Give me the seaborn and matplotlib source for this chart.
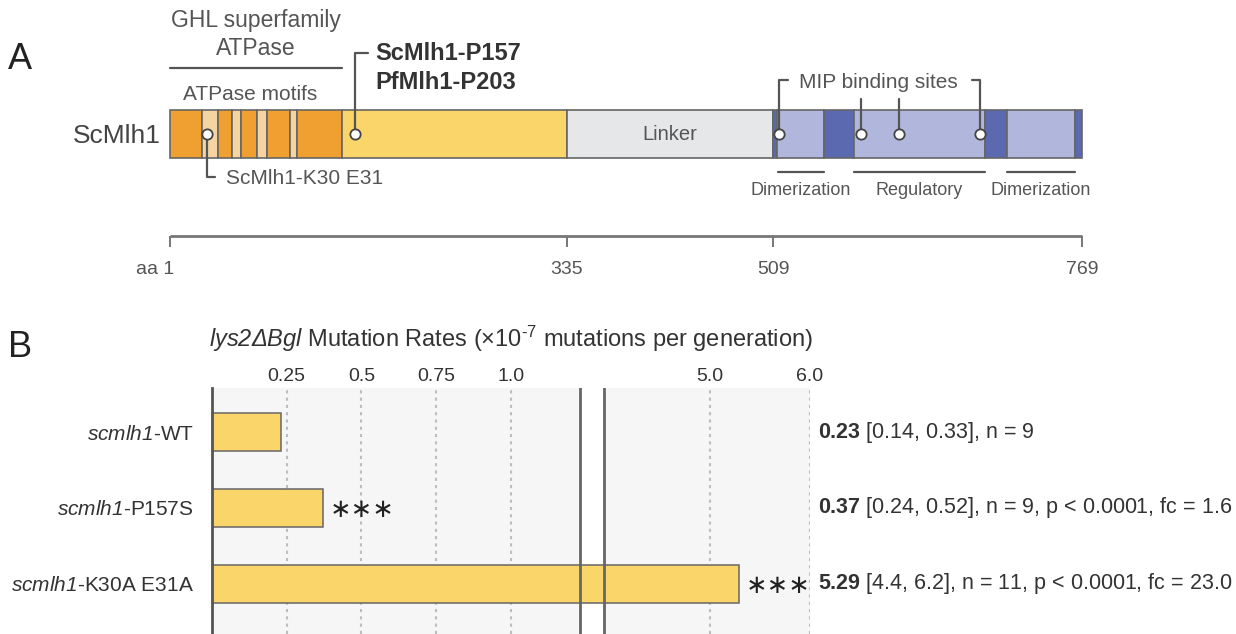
import numpy as np
import matplotlib
matplotlib.use("Agg")
import matplotlib.pyplot as plt
import seaborn as sns

# ============================
# DATA
# ============================
# panel A: ScMlh1 domain map (aa coordinates)
domain_start = [1, 28, 41, 53, 61, 74, 83, 102, 108, 146, 335, 509, 512, 552, 577, 687, 706, 763]
domain_end = [28, 41, 53, 61, 74, 83, 102, 108, 146, 335, 509, 512, 552, 577, 687, 706, 763, 769]
domain_kind = ['atpase', 'motif', 'atpase', 'motif', 'atpase', 'motif', 'atpase', 'motif', 'atpase',
               'ntd', 'linker', 'dark', 'light', 'dark', 'light', 'dark', 'light', 'dark']
k30_site = 32
p157_site = 157
mip_sites = [514, 583, 615, 683]
sub_regions = [(513, 552, 'Dimerization'), (577, 687, 'Regulatory'), (706, 763, 'Dimerization')]
atpase_span = (1, 146)
ruler_ticks = [1, 335, 509, 769]

# panel B: mutation rates
strains = ['WT', 'P157S', 'K30A E31A']
rates = [0.23, 0.37, 5.29]
ci_low = [0.14, 0.24, 4.4]
ci_high = [0.33, 0.52, 6.2]
n_reps = [9, 9, 11]
p_vals = [None, '0.0001', '0.0001']
fold_change = [None, 1.6, 23.0]
stars = ['', '∗∗∗', '∗∗∗']
rate_ticks = [0.25, 0.5, 0.75, 1.0, 5.0, 6.0]
rate_ticklabels = ['0.25', '0.5', '0.75', '1.0', '5.0', '6.0']

# ============================
# STYLE
# ============================
sns.set_style('white')
plt.rcParams['font.family'] = ['Liberation Sans', 'DejaVu Sans']
plt.rcParams['mathtext.fontset'] = 'custom'
plt.rcParams['mathtext.rm'] = 'Liberation Sans'
plt.rcParams['mathtext.it'] = 'Liberation Sans:italic'
# sf slot used as "all italic" (digits included)
plt.rcParams['mathtext.sf'] = 'Liberation Sans:italic'
plt.rcParams['mathtext.bf'] = 'Liberation Sans:bold'

colors = {'atpase': '#f0a030', 'motif': '#f5d4a2', 'ntd': '#f9d56a', 'linker': '#e6e7e9',
          'light': '#b1b7dc', 'dark': '#5a69b0'}
gray_txt = '#555555'
dark_txt = '#333333'
line_c = '#555555'

W, H = 1236, 634
fig = plt.figure(figsize=(W / 100, H / 100), dpi=100)

# ============================
# PANEL A
# ============================
px_per_aa = 1.1875
x0_px = 170
ax_a = fig.add_axes([0, (H - 300) / H, 1, 300 / H])
ax_a.set_xlim(1 - x0_px / px_per_aa, 1 + (W - x0_px) / px_per_aa)
ax_a.set_ylim(300, 0)
ax_a.axis('off')

bar_y = 134
ax_a.barh(bar_y, np.array(domain_end) - np.array(domain_start), left=domain_start, height=48,
          color=[colors[k] for k in domain_kind], edgecolor='#666666', linewidth=1.2, zorder=2)

# markers
all_sites = [k30_site, p157_site] + mip_sites
ax_a.scatter(all_sites, [bar_y] * len(all_sites), s=55, facecolor='white', edgecolor='#444444',
             linewidth=1.3, zorder=5)

lw = 1.6
# K30 E31 callout
ax_a.plot([k30_site, k30_site, k30_site + 7], [bar_y, 177, 177], color=line_c, lw=lw, zorder=4)
ax_a.text(k30_site + 16, 184.5, 'ScMlh1-K30 E31', fontsize=15, color=gray_txt, va='baseline')

# P157 callout
ax_a.plot([p157_site, p157_site, p157_site + 11], [bar_y, 53, 53], color=line_c, lw=lw, zorder=4)
ax_a.text(p157_site + 17, 60, 'ScMlh1-P157', fontsize=17, fontweight='bold', color=dark_txt,
          va='baseline')
ax_a.text(p157_site + 17, 89, 'PfMlh1-P203', fontsize=17, fontweight='bold', color=dark_txt,
          va='baseline')

# MIP callout
ax_a.plot([mip_sites[0], mip_sites[0], mip_sites[0] + 7], [bar_y, 80, 80], color=line_c, lw=lw, zorder=4)
ax_a.plot([mip_sites[-1] - 7, mip_sites[-1], mip_sites[-1]], [80, 80, bar_y], color=line_c, lw=lw, zorder=4)
for s in mip_sites[1:-1]:
    ax_a.plot([s, s], [99, bar_y], color=line_c, lw=lw, zorder=4)
ax_a.text(np.mean([mip_sites[0], mip_sites[-1]]) - 1, 88, 'MIP binding sites', fontsize=15,
          color=gray_txt, ha='center', va='baseline')

# ATPase labels
mid_atp = np.mean(atpase_span)
ax_a.text(mid_atp, 27, 'GHL superfamily', fontsize=16.5, color=gray_txt, ha='center', va='baseline')
ax_a.text(mid_atp, 55, 'ATPase', fontsize=16.5, color=gray_txt, ha='center', va='baseline')
ax_a.plot(atpase_span, [68, 68], color=line_c, lw=lw)
ax_a.text(mid_atp - 5, 100, 'ATPase motifs', fontsize=15, color=gray_txt, ha='center', va='baseline')

# linker
ax_a.text((335 + 509) / 2, bar_y, 'Linker', fontsize=14.5, color=gray_txt, ha='center', va='center')

# sub regions under the CTD
for a, b, lab in sub_regions:
    ax_a.plot([a, b], [172, 172], color=line_c, lw=lw)
    ax_a.text((a + b) / 2, 195, lab, fontsize=13, color=gray_txt, ha='center', va='baseline')

ax_a.text(-7, 143, 'ScMlh1', fontsize=19, color='#444444', ha='right', va='baseline')

# ruler
ax_a.hlines(236, ruler_ticks[0], ruler_ticks[-1], color='#777777', lw=2)
ax_a.vlines(ruler_ticks, 236, 247, color='#777777', lw=1.4)
for t in ruler_ticks:
    if t == ruler_ticks[0]:
        ax_a.text(t + 4, 274, f'aa {t}', fontsize=14, color=gray_txt, ha='right', va='baseline')
    else:
        ax_a.text(t, 274, str(t), fontsize=14, color=gray_txt, ha='center', va='baseline')

fig.text(8 / W, 1 - 69 / H, 'A', fontsize=26, color='#222222', va='baseline')
fig.text(8 / W, 1 - 357 / H, 'B', fontsize=26, color='#222222', va='baseline')

# ============================
# PANEL B (broken axis)
# ============================
brk_lo, brk_hi = 1.231, 3.94
knots_x = [-100, 0, brk_lo, brk_hi, 100]
knots_p = [-29900, 0, 368, 392, 392 + 9606]


def fwd(x):
    return np.interp(x, knots_x, knots_p)


def inv(p):
    return np.interp(p, knots_p, knots_x)


ax_b = fig.add_axes([212 / W, 0, 598 / W, (H - 388) / H])
ax_b.set_facecolor('#f6f6f6')

labels = [f'$\\mathsf{{scmlh1}}$-{s}' for s in strains]
sns.barplot(x=rates, y=labels, orient='h', color='#f9d56a', saturation=1, width=0.51,
            edgecolor='#666666', linewidth=1.1, ax=ax_b, zorder=2)
ax_b.set_xscale('function', functions=(fwd, inv))
ax_b.set_xlim(0, 6.0)
ax_b.set_ylim(2.66, -0.58)

ax_b.axvspan(brk_lo, brk_hi, color='white', zorder=0.8, lw=0)
for t in rate_ticks:
    ax_b.axvline(t, color='#bdbdbd', lw=1.5, ls=(0, (1.5, 2)), zorder=0.6)
ax_b.axvline(brk_lo, color='#666666', lw=2, zorder=3)
ax_b.axvline(brk_hi, color='#666666', lw=2, zorder=3)

ax_b.xaxis.tick_top()
ax_b.set_xticks(rate_ticks)
ax_b.set_xticklabels(rate_ticklabels)
ax_b.minorticks_off()
ax_b.tick_params(axis='x', length=0, pad=2, labelsize=14, labelcolor=dark_txt)
ax_b.tick_params(axis='y', length=0, pad=13, labelsize=15, labelcolor=dark_txt)
ax_b.set_xlabel('')
ax_b.set_ylabel('')
for side in ['top', 'right', 'bottom']:
    ax_b.spines[side].set_visible(False)
ax_b.spines['left'].set_color('#555555')
ax_b.spines['left'].set_linewidth(2)

for i in range(len(strains)):
    txt = f'$\\mathbf{{{rates[i]:.2f}}}$ [{ci_low[i]}, {ci_high[i]}], n = {n_reps[i]}'
    if p_vals[i] is not None:
        txt += f', p < {p_vals[i]}, fc = {fold_change[i]:.1f}'
    ax_b.annotate(txt, xy=(6.0, i), xytext=(6, 0), textcoords='offset points', fontsize=15.5,
                  color=dark_txt, va='center', ha='left', annotation_clip=False)
    if stars[i]:
        ax_b.annotate(stars[i], xy=(rates[i], i), xytext=(5, -1.5), textcoords='offset points',
                      fontsize=18.5, family='DejaVu Sans', color='#222222', va='center', ha='left')

fig.text(511 / W, 1 - 347 / H,
         '$\\mathsf{lys2ΔBgl}$ Mutation Rates (×10$^{\\text{-7}}$ mutations per generation)',
         fontsize=17, color=dark_txt, ha='center', va='baseline')

fig.savefig('out.png', dpi=100)
